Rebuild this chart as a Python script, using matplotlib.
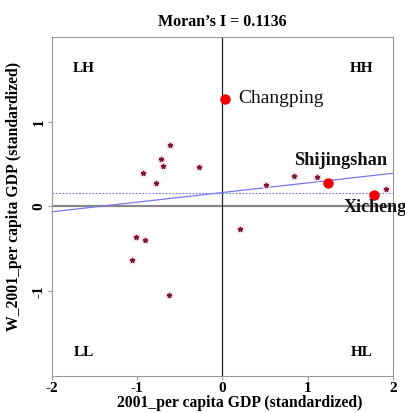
import matplotlib
matplotlib.use("Agg")
import matplotlib.pyplot as plt
import numpy as np

# data
x_vals = [-0.61, -0.716, -0.70, -0.935, -0.78, -0.28, 0.51, 0.84, 1.11, 1.92,
          0.21, -1.02, -0.91, -1.06, -0.63]
y_vals = [0.72, 0.556, 0.477, 0.398, 0.28, 0.465, 0.25, 0.36, 0.343, 0.21,
          -0.27, -0.355, -0.39, -0.63, -1.05]
hl_names = ["Changping", "Shijingshan", "Xicheng"]
hl_x = [0.035, 1.24, 1.775]
hl_y = [1.27, 0.276, 0.134]
label_x = [0.19, 0.84, 1.42]
label_y = [1.27, 0.54, -0.01]
label_weight = ["normal", "bold", "bold"]
label_size = [14, 13.2, 13]
moran_i = 0.1136
intercept = 0.165
mean_w = 0.16
quad_labels = ["LH", "HH", "LL", "HL"]
quad_x = [-1.63, 1.63, -1.63, 1.63]
quad_y = [1.63, 1.63, -1.72, -1.72]
xticks = [-2, -1, 0, 1, 2]
yticks = [-1, 0, 1]

plt.rcParams['font.family'] = ['Liberation Serif', 'DejaVu Serif']

fig = plt.figure(figsize=(4.06, 4.13), dpi=100)
ax = fig.add_axes([52/406, 1-376/413, (393-52)/406, (376-37)/413])
ax.set_xlim(-2, 2)
ax.set_ylim(-2, 2)

for s in ax.spines.values():
    s.set_color('#999999')
    s.set_linewidth(0.8)

ax.axhline(0, color='#888888', lw=1.6, zorder=1)
ax.axvline(0, color='#222222', lw=0.9, zorder=1)
ax.axhline(mean_w, color='#6f6fe8', lw=0.8, ls=(0, (1.5, 1.5)), zorder=1)
xs = np.array([-2, 2])
ax.plot(xs, intercept + moran_i * xs, color='#7777ee', lw=0.9, zorder=2)

ax.plot(x_vals, y_vals, ls='none', marker='o', ms=5, color='#f7e0ea', zorder=3)
ax.plot(x_vals, y_vals, ls='none', marker='*', ms=3.5, color='#7a1838', zorder=4)
ax.plot(hl_x, hl_y, ls='none', marker='o', ms=6.5, color='#ee0000', zorder=5)

for n, lx, ly, w, fs in zip(hl_names, label_x, label_y, label_weight, label_size):
    ax.text(lx, ly, n, fontsize=fs, fontweight=w, va='center', ha='left',
            color='#111111', clip_on=False, zorder=6)

for q, qx, qy in zip(quad_labels, quad_x, quad_y):
    ax.text(qx, qy, q, fontsize=11, fontweight='bold', ha='center', va='center')

ax.set_xticks(xticks)
ax.set_xticklabels([str(t) for t in xticks], fontweight='bold', fontsize=11)
ax.set_yticks(yticks)
ax.set_yticklabels([str(t) for t in yticks], fontweight='bold', fontsize=11,
                   rotation=90, va='center')
ax.tick_params(length=3, width=0.8, color='#999999', pad=1.5)

ax.set_title("Moran\u2019s I = 0.1136", fontsize=11.5, fontweight='bold', pad=8)
ax.set_xlabel("2001_per capita GDP (standardized)", fontsize=11.3,
              fontweight='bold')
ax.set_ylabel("W_2001_per capita GDP (standardized)", fontsize=11.3,
              fontweight='bold')
ax.xaxis.set_label_coords(0.551, -0.057)
ax.yaxis.set_label_coords(-0.087, 0.531)

fig.savefig("out.png", dpi=100)
